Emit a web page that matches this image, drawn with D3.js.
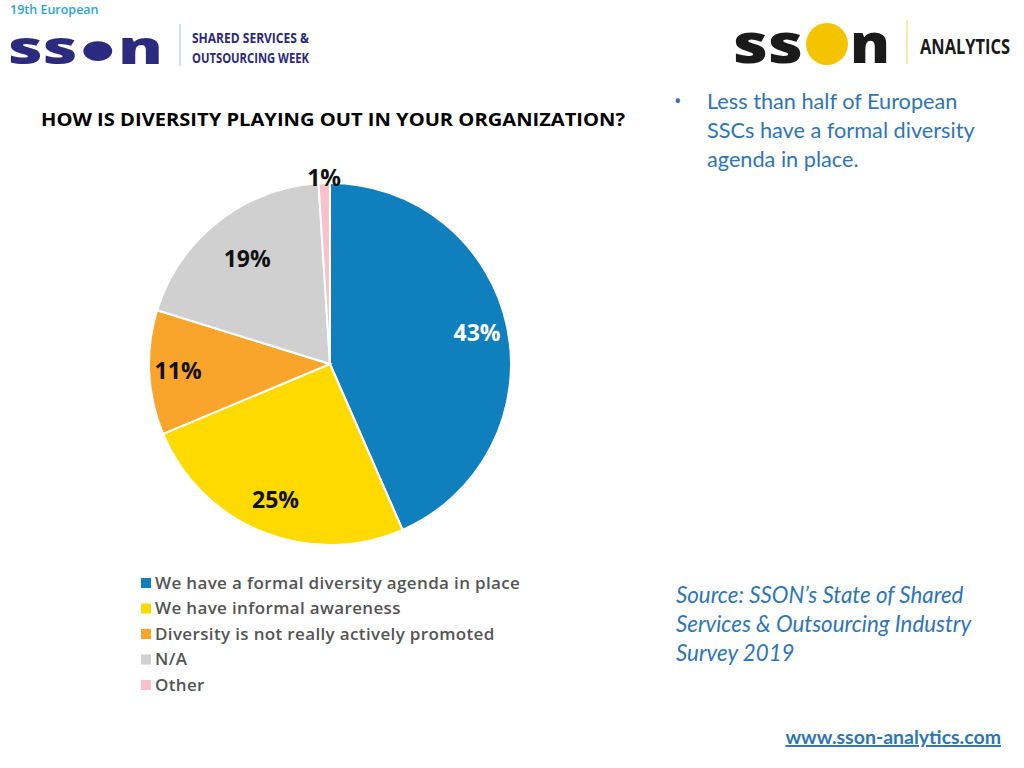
<!DOCTYPE html><html><head><meta charset="utf-8"><script src="https://cdn.jsdelivr.net/npm/d3@7"></script>
<style>body{margin:0;background:#fff}svg{display:block}</style></head><body><svg id="c" width="1024" height="768"></svg><script>
const categories=["We have a formal diversity agenda in place","We have informal awareness","Diversity is not really actively promoted","N/A","Other"];
const values=[43,25,11,19,1];
const labels=["43%","25%","11%","19%","1%"];
const colors=["#0F80BD","#FEDA00","#F9A42B","#D0D0D0","#F8C2C8"];
const svg=d3.select("#c");const F="'Open Sans',sans-serif";
svg.append("text").attr("x",10).attr("y",14).attr("font-family",F).attr("font-weight",600).attr("font-size",12.5).attr("fill","#2CA3DB").text("19th European");
svg.append("text").attr("x",8).attr("y",64).attr("font-family",F).attr("font-weight",800).attr("font-size",46).attr("fill","#2B2A7F").attr("textLength",155).attr("lengthAdjust","spacingAndGlyphs").text("ss\u25CFn");
svg.append("line").attr("x1",180).attr("x2",180).attr("y1",24).attr("y2",66).attr("stroke","#9BC7E6");
svg.append("text").attr("x",192).attr("y",43).attr("font-family",F).attr("font-weight",700).attr("font-size",15).attr("fill","#2B2A7F").attr("textLength",117).attr("lengthAdjust","spacingAndGlyphs").text("SHARED SERVICES &");
svg.append("text").attr("x",192).attr("y",63).attr("font-family",F).attr("font-weight",700).attr("font-size",15).attr("fill","#2B2A7F").attr("textLength",117).attr("lengthAdjust","spacingAndGlyphs").text("OUTSOURCING WEEK");
svg.append("text").attr("x",733).attr("y",63).attr("font-family",F).attr("font-weight",800).attr("font-size",54).attr("fill","#1a1a1a").attr("textLength",70).attr("lengthAdjust","spacingAndGlyphs").text("ss");
svg.append("circle").attr("cx",827).attr("cy",44).attr("r",21).attr("fill","#F5C400");
svg.append("text").attr("x",850).attr("y",63).attr("font-family",F).attr("font-weight",800).attr("font-size",54).attr("fill","#1a1a1a").attr("textLength",40).attr("lengthAdjust","spacingAndGlyphs").text("n");
svg.append("line").attr("x1",907).attr("x2",907).attr("y1",20).attr("y2",64).attr("stroke","#F5D44A");
svg.append("text").attr("x",920).attr("y",54).attr("font-family",F).attr("font-weight",700).attr("font-size",22).attr("fill","#1a1a1a").attr("textLength",90).attr("lengthAdjust","spacingAndGlyphs").text("ANALYTICS");
svg.append("text").attr("x",41).attr("y",126).attr("font-family",F).attr("font-weight",700).attr("font-size",17).attr("fill","#000").attr("textLength",584).attr("lengthAdjust","spacingAndGlyphs").text("HOW IS DIVERSITY PLAYING OUT IN YOUR ORGANIZATION?");
const cx=330,cy=364,R=181;
const pie=d3.pie().sort(null).value(d=>d)(values);
const arc=d3.arc().innerRadius(0).outerRadius(R);
const g=svg.append("g").attr("transform",`translate(${cx},${cy})`);
g.selectAll("path").data(pie).join("path").attr("d",arc).attr("fill",(d,i)=>colors[i]).attr("stroke","#fff").attr("stroke-width",2);
const lr=[0.83,0.81,0.84,0.74,1.03];
g.selectAll("text").data(pie).join("text").attr("transform",(d,i)=>{const a=(d.startAngle+d.endAngle)/2;const r=R*lr[i];return `translate(${Math.sin(a)*r},${-Math.cos(a)*r})`;})
 .attr("text-anchor","middle").attr("dy","0.35em").attr("font-family",F).attr("font-weight",700).attr("font-size",23)
 .attr("fill",(d,i)=>i==0?"#fff":"#111").text((d,i)=>labels[i]);
const lg=svg.append("g").attr("transform","translate(141,583)");
categories.forEach((c,i)=>{const y=i*25.5;lg.append("rect").attr("x",0).attr("y",y-5).attr("width",10).attr("height",10).attr("fill",colors[i]);
lg.append("text").attr("x",14).attr("y",y).attr("dy","0.35em").attr("font-family",F).attr("font-weight",600).attr("font-size",17).attr("letter-spacing",0.35).attr("fill","#555").text(c);});
svg.append("text").attr("x",674).attr("y",108).attr("font-family",F).attr("font-size",20).attr("fill","#2E75B6").text("•");
["Less than half of European","SSCs have a formal diversity","agenda in place."].forEach((t,i)=>svg.append("text").attr("x",707).attr("y",109+i*29).attr("font-family","'Lato',sans-serif").attr("font-size",21.7).attr("fill","#2E75B6").text(t));
["Source: SSON\u2019s State of Shared","Services & Outsourcing Industry","Survey 2019"].forEach((t,i)=>svg.append("text").attr("x",676).attr("y",603+i*29).attr("font-family","'Lato',sans-serif").attr("font-style","italic").attr("font-size",22.3).attr("fill","#2E75B6").text(t));
svg.append("text").attr("x",1001).attr("y",744).attr("text-anchor","end").attr("font-family","'Lato',sans-serif").attr("font-weight",700).attr("font-size",19.5).attr("fill","#2E75B6").attr("text-decoration","underline").text("www.sson-analytics.com");
</script></body></html>
